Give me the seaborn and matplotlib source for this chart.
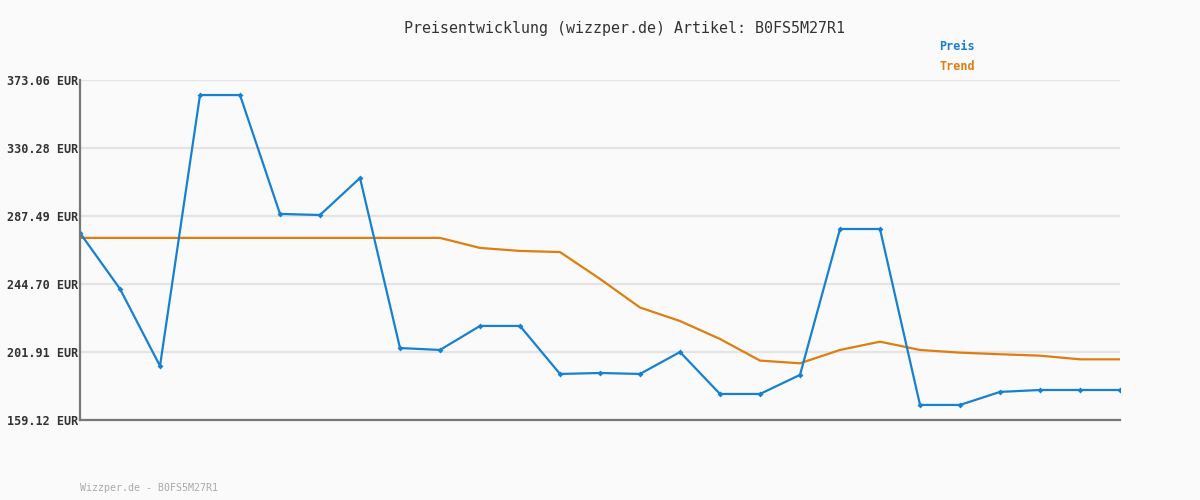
import pandas as pd
import seaborn as sns
import numpy as np
import matplotlib.pyplot as plt

# Werte
preis = [276.8, 241.6, 193.1, 363.6, 363.6, 288.8, 288.1, 311.4, 204.4, 203.2,
         218.3, 218.3, 188.1, 188.7, 188.1, 201.9, 175.5, 175.5, 187.5, 279.3,
         279.3, 168.6, 168.6, 176.8, 178.0, 178.0, 178.0]
trend = [273.7, 273.7, 273.7, 273.7, 273.7, 273.7, 273.7, 273.7, 273.7, 273.7,
         267.4, 265.5, 264.8, 247.9, 229.9, 221.4, 210.1, 196.5, 194.8, 203.2,
         208.4, 203.2, 201.5, 200.5, 199.6, 197.3, 197.3]
y_ticks = [159.12, 201.91, 244.70, 287.49, 330.28, 373.06]

blau = '#1681d0'
orange = '#de7d10'

df = pd.DataFrame({'x': np.arange(len(preis)), 'Preis': preis, 'Trend': trend})

sns.set_style('white')
plt.rcParams['font.family'] = ['DejaVu Sans Mono']

fig = plt.figure(figsize=(12, 5), dpi=100, facecolor='#fafafa')
ax = fig.add_axes([80 / 1200, 80 / 500, 1040 / 1200, 340 / 500])
ax.set_facecolor('#fafafa')

sns.lineplot(data=df, x='x', y='Trend', color=orange, linewidth=1.6, ax=ax)
sns.lineplot(data=df, x='x', y='Preis', color=blau, linewidth=1.6,
             marker='D', markersize=3, markeredgewidth=0, ax=ax)

ax.set_xlim(0, len(preis) - 1)
ax.set_ylim(y_ticks[0], y_ticks[-1])
ax.set_yticks(y_ticks)
ax.set_yticklabels([f'{v:.2f} EUR' for v in y_ticks], fontsize=8.5,
                   fontweight='bold', color='#333333')
ax.set_xticks([])
ax.set_xlabel('')
ax.set_ylabel('')
ax.tick_params(axis='y', length=0, pad=1)
ax.grid(axis='y', color='#e4e4e4', linewidth=1.6)
ax.set_axisbelow(True)
for s in ['top', 'right']:
    ax.spines[s].set_visible(False)
for s in ['left', 'bottom']:
    ax.spines[s].set_color('#777777')
    ax.spines[s].set_linewidth(1.6)

fig.text(0.52, 1 - 28 / 500, 'Preisentwicklung (wizzper.de) Artikel: B0FS5M27R1',
         ha='center', va='center', fontsize=10.8, color='#333333')
fig.text(975 / 1200, 1 - 47 / 500, 'Preis', ha='right', va='center',
         fontsize=8.5, fontweight='bold', color=blau)
fig.text(975 / 1200, 1 - 67 / 500, 'Trend', ha='right', va='center',
         fontsize=8.5, fontweight='bold', color=orange)
fig.text(80 / 1200, 1 - 488 / 500, 'Wizzper.de - B0FS5M27R1', ha='left',
         va='center', fontsize=7.2, color='#aaaaaa')

fig.savefig('out.png', dpi=100, facecolor='#fafafa')
